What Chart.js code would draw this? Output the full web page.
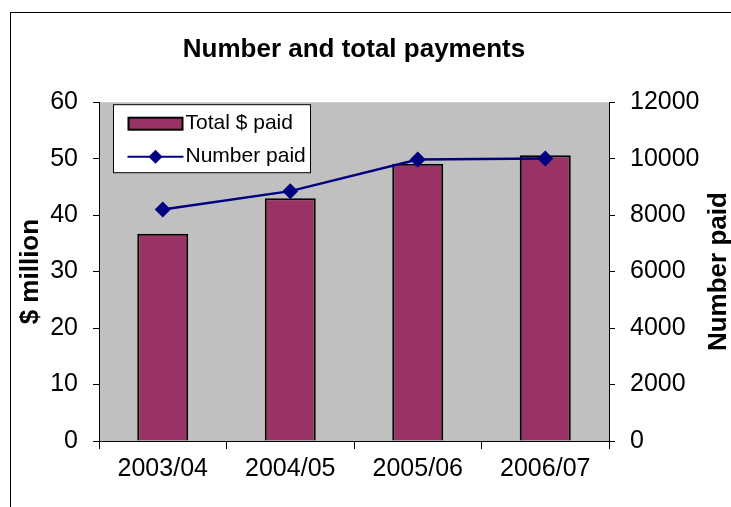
<!DOCTYPE html>
<html><head><meta charset="utf-8">
<script src="https://cdn.jsdelivr.net/npm/chart.js@4/dist/chart.umd.min.js"></script>
<style>
html,body{margin:0;padding:0;background:#fff;}
#wrap{position:relative;width:731px;height:507px;overflow:hidden;}
#frame{position:absolute;left:10px;top:12px;width:760px;height:520px;border-left:1px solid #000;border-top:1px solid #000;}
canvas{position:absolute;left:0;top:0;}
</style></head><body>
<div id="wrap"><div id="frame"></div><canvas id="c" width="731" height="507"></canvas></div>
<script>
const categories = ['2003/04', '2004/05', '2005/06', '2006/07'];
const totalPaid = [36.7, 43.0, 49.1, 50.6];
const numberPaid = [8200, 8850, 9970, 10010];
const leftAxis = {min: 0, max: 60, step: 10, title: '$ million'};
const rightAxis = {min: 0, max: 12000, step: 2000, title: 'Number paid'};
const chartTitle = 'Number and total payments';

const FONT = "'Liberation Sans', Arial, sans-serif";

const bgPlugin = {
  id: 'plotBg',
  beforeDraw(chart) {
    const {ctx, chartArea: a} = chart;
    ctx.save();
    ctx.fillStyle = '#C0C0C0';
    ctx.fillRect(a.left, a.top, a.right - a.left, a.bottom - a.top);
    ctx.restore();
  }
};

const legendPlugin = {
  id: 'insideLegend',
  afterDatasetsDraw(chart) {
    const {ctx, chartArea: a} = chart;
    const ds = chart.data.datasets;
    const x0 = a.left + 14.5, y0 = a.top + 2.5, w = 197, h = 68;
    ctx.save();
    ctx.fillStyle = '#fff';
    ctx.fillRect(x0, y0, w, h);
    ctx.strokeStyle = '#000';
    ctx.lineWidth = 1;
    ctx.strokeRect(x0, y0, w, h);
    // bar swatch
    ctx.fillStyle = ds[1].backgroundColor;
    ctx.fillRect(x0 + 15, y0 + 13, 54, 12);
    ctx.lineWidth = 2;
    ctx.strokeRect(x0 + 15, y0 + 13, 54, 12);
    // line swatch
    const ly = y0 + 52;
    ctx.strokeStyle = ds[0].borderColor;
    ctx.lineWidth = 2;
    ctx.beginPath();
    ctx.moveTo(x0 + 14, ly);
    ctx.lineTo(x0 + 70, ly);
    ctx.stroke();
    ctx.fillStyle = ds[0].borderColor;
    ctx.beginPath();
    const cx = x0 + 42, r = 7;
    ctx.moveTo(cx, ly - r); ctx.lineTo(cx + r, ly); ctx.lineTo(cx, ly + r); ctx.lineTo(cx - r, ly);
    ctx.closePath();
    ctx.fill();
    ctx.fillStyle = '#000';
    ctx.font = '21px ' + FONT;
    ctx.textBaseline = 'middle';
    ctx.textAlign = 'left';
    ctx.fillText(ds[1].label, x0 + 72, y0 + 19);
    ctx.fillText(ds[0].label, x0 + 72, ly);
    ctx.restore();
  }
};

const rightTitlePlugin = {
  id: 'rightTitle',
  afterDraw(chart) {
    const {ctx, chartArea: a} = chart;
    ctx.save();
    ctx.translate(719, (a.top + a.bottom) / 2);
    ctx.rotate(-Math.PI / 2);
    ctx.fillStyle = '#000';
    ctx.font = 'bold 26px ' + FONT;
    ctx.textAlign = 'center';
    ctx.textBaseline = 'middle';
    ctx.fillText(rightAxis.title, 0, 0);
    ctx.restore();
  }
};

new Chart(document.getElementById('c'), {
  data: {
    labels: categories,
    datasets: [
      {
        type: 'line', label: 'Number paid', data: numberPaid, yAxisID: 'y1', order: 0,
        borderColor: '#000080', backgroundColor: '#000080', borderWidth: 2.5,
        pointStyle: 'rectRot', pointRadius: 8, pointBorderWidth: 0, tension: 0
      },
      {
        type: 'bar', label: 'Total $ paid', data: totalPaid, yAxisID: 'y', order: 1,
        backgroundColor: '#993366', borderColor: '#000', borderWidth: 2,
        barPercentage: 0.4, categoryPercentage: 1
      }
    ]
  },
  options: {
    responsive: false,
    animation: false,
    devicePixelRatio: 1,
    layout: {padding: {left: 0, right: 0, top: 0, bottom: 0}},
    plugins: {
      legend: {display: false},
      tooltip: {enabled: false},
      title: {
        display: true, text: chartTitle, fullSize: false, color: '#000',
        font: {family: FONT, size: 26, weight: 'bold'},
        padding: {top: 34, bottom: 37}
      }
    },
    scales: {
      x: {
        afterFit(s) { s.height = 66; },
        grid: {offset: true, drawOnChartArea: false, drawTicks: true, tickLength: 8, color: '#000'},
        border: {display: true, color: '#000', width: 1},
        ticks: {color: '#000', font: {family: FONT, size: 25}, padding: 5, maxRotation: 0}
      },
      y: {
        position: 'left', min: leftAxis.min, max: leftAxis.max,
        afterFit(s) { s.width = 99; },
        grid: {drawOnChartArea: false, drawTicks: true, tickLength: 6, color: '#000'},
        border: {display: true, color: '#000', width: 1},
        ticks: {stepSize: leftAxis.step, color: '#000', font: {family: FONT, size: 25}, padding: 15},
        title: {display: true, text: leftAxis.title, color: '#000', font: {family: FONT, size: 26, weight: 'bold'}, padding: {top: 15, bottom: 0}}
      },
      y1: {
        position: 'right', min: rightAxis.min, max: rightAxis.max,
        afterFit(s) { s.width = 122; },
        grid: {drawOnChartArea: false, drawTicks: true, tickLength: 6, color: '#000'},
        border: {display: true, color: '#000', width: 1},
        ticks: {stepSize: rightAxis.step, color: '#000', font: {family: FONT, size: 25}, padding: 15,
          callback: v => String(v)}
      }
    }
  },
  plugins: [bgPlugin, legendPlugin, rightTitlePlugin]
});
</script>
</body></html>
